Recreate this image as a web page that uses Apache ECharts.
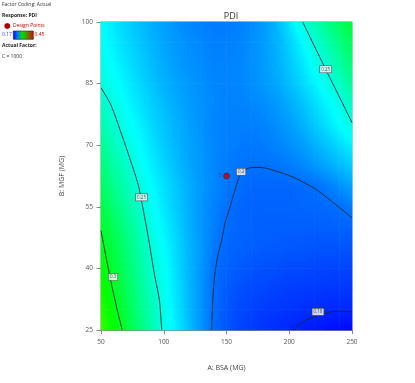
<!DOCTYPE html>
<html><head><meta charset="utf-8">
<script src="https://cdn.jsdelivr.net/npm/echarts@6/dist/echarts.min.js"></script>
<style>html,body{margin:0;padding:0;background:#fff}#c{width:415px;height:383px}</style>
</head><body><div id="c"></div>
<script>
// ---- data ----
const bsaValues = [50,60,70,80,90,100,110,120,130,140,150,160,170,180,190,200,210,220,230,240,250];
const mgfValues = [25,30,35,40,45,50,55,60,65,70,75,80,85,90,95,100];
const pdi25  = [0.325,0.31,0.295,0.279,0.263,0.248,0.236,0.223,0.21,0.199,0.193,0.189,0.186,0.184,0.182,0.18,0.178,0.176,0.174,0.173,0.172];
const pdi30  = [0.32,0.306,0.291,0.275,0.26,0.246,0.233,0.221,0.21,0.2,0.194,0.19,0.188,0.186,0.185,0.184,0.183,0.182,0.181,0.181,0.181];
const pdi35  = [0.315,0.301,0.286,0.271,0.257,0.244,0.232,0.221,0.21,0.2,0.195,0.192,0.19,0.189,0.188,0.187,0.186,0.186,0.185,0.185,0.185];
const pdi40  = [0.31,0.296,0.282,0.268,0.254,0.242,0.231,0.22,0.211,0.201,0.197,0.195,0.193,0.192,0.191,0.19,0.19,0.189,0.189,0.189,0.189];
const pdi45  = [0.304,0.291,0.278,0.265,0.251,0.24,0.23,0.22,0.212,0.203,0.198,0.197,0.196,0.195,0.195,0.194,0.194,0.193,0.193,0.193,0.193];
const pdi50  = [0.299,0.286,0.273,0.26,0.247,0.237,0.228,0.219,0.211,0.205,0.199,0.198,0.197,0.196,0.196,0.196,0.196,0.196,0.196,0.197,0.197];
const pdi55  = [0.291,0.279,0.266,0.255,0.243,0.234,0.226,0.218,0.211,0.206,0.201,0.198,0.197,0.197,0.197,0.197,0.198,0.198,0.199,0.2,0.204];
const pdi60  = [0.284,0.271,0.26,0.25,0.24,0.232,0.225,0.218,0.212,0.207,0.203,0.2,0.198,0.198,0.198,0.198,0.199,0.2,0.204,0.209,0.215];
const pdi65  = [0.277,0.265,0.255,0.245,0.236,0.229,0.222,0.216,0.211,0.207,0.204,0.202,0.201,0.201,0.202,0.204,0.207,0.211,0.216,0.221,0.226];
const pdi70  = [0.27,0.259,0.2495,0.241,0.233,0.226,0.22,0.215,0.211,0.207,0.205,0.204,0.203,0.204,0.206,0.209,0.213,0.218,0.224,0.23,0.237];
const pdi75  = [0.263,0.253,0.244,0.237,0.23,0.224,0.219,0.214,0.21,0.207,0.205,0.205,0.205,0.206,0.209,0.213,0.218,0.225,0.232,0.24,0.248];
const pdi80  = [0.256,0.248,0.24,0.233,0.227,0.222,0.217,0.213,0.21,0.207,0.206,0.206,0.207,0.209,0.212,0.217,0.223,0.23,0.238,0.245,0.257];
const pdi85  = [0.249,0.243,0.236,0.23,0.224,0.219,0.215,0.212,0.209,0.207,0.206,0.207,0.209,0.212,0.216,0.222,0.229,0.237,0.245,0.256,0.268];
const pdi90  = [0.245,0.239,0.233,0.227,0.222,0.217,0.213,0.21,0.208,0.206,0.206,0.207,0.209,0.213,0.218,0.225,0.233,0.243,0.253,0.265,0.277];
const pdi95  = [0.242,0.236,0.23,0.225,0.22,0.215,0.212,0.209,0.207,0.205,0.205,0.206,0.209,0.213,0.219,0.227,0.238,0.25,0.262,0.274,0.286];
const pdi100 = [0.24,0.234,0.228,0.223,0.218,0.214,0.21,0.207,0.205,0.204,0.204,0.205,0.208,0.212,0.22,0.233,0.248,0.261,0.273,0.284,0.295];
const pdiRows = [pdi25,pdi30,pdi35,pdi40,pdi45,pdi50,pdi55,pdi60,pdi65,pdi70,pdi75,pdi80,pdi85,pdi90,pdi95,pdi100];

const contour030 = [[50,49.2],[54,42.8],[58.5,36],[62.8,30],[66.9,25]];
const contour025a = [[50,84],[57.9,79.8],[66,73],[73.5,66.3],[79.7,60.3],[83.7,54.2],[88.3,46.5],[92.3,39],[96.5,32.3],[98.4,25]];
const contour025b = [[210.7,100],[229,88.5],[243.1,79.8],[250,75.5]];
const contour020 = [[138.2,25],[138.7,30],[139.6,35],[141.3,40],[143.8,44],[146.2,46.9],[148.8,51],[152.8,55],[156.8,59.1],[160.2,62.3],[163.4,63.7],[168.7,64.5],[176.7,64.6],[187.3,63.9],[203.2,62.2],[221.9,59.1],[250,52.3]];
const contour018 = [[203.2,25],[208.6,26.5],[214,27.5],[219.2,28.2],[232.5,29.4],[240.4,29.6],[250,29.4]];
const contourLabelText = ['0.3','0.25','0.2','0.18','0.25'];
const contourLabelAt = [[59.6,37.9],[82.3,57.3],[161.6,63.5],[222.9,29.4],[229,88.5]];
const designPoints = [[150,62.5]];
const designCounts = ['5'];
const xTicks = [50,100,150,200,250];
const yTicks = [25,40,55,70,85,100];
const colorRange = [0.17,0.45];

// ---- colour map (blue-cyan-green-yellow-red) ----
const cmap = [[0,0,255],[0,255,255],[0,255,0],[255,255,0],[255,0,0]];
function colorFor(v){
  let t = (v-colorRange[0])/(colorRange[1]-colorRange[0]);
  t = Math.max(0,Math.min(1,t))*(cmap.length-1);
  const k = Math.min(cmap.length-2, Math.floor(t)), f = t-k;
  const a = cmap[k], b = cmap[k+1];
  return 'rgb('+[0,1,2].map(c=>Math.round(a[c]+(b[c]-a[c])*f)).join(',')+')';
}

const cells = [];
for (let j=0;j<mgfValues.length-1;j++) for (let i=0;i<bsaValues.length-1;i++)
  cells.push([bsaValues[i],mgfValues[j],bsaValues[i+1],mgfValues[j+1],
    pdiRows[j][i],pdiRows[j][i+1],pdiRows[j+1][i],pdiRows[j+1][i+1]]);

function renderCell(params, api){
  const p0 = api.coord([api.value(0),api.value(1)]);
  const p1 = api.coord([api.value(2),api.value(3)]);
  const v00=api.value(4), v10=api.value(5), v01=api.value(6), v11=api.value(7);
  const W = p1[0]-p0[0], H = p1[1]-p0[1];
  const dx = ((v10-v00)+(v11-v01))/2, dy = ((v01-v00)+(v11-v10))/2;
  const gx = dx/W, gy = dy/H, g = Math.hypot(gx,gy);
  const vc = (v00+v10+v01+v11)/4;
  const cx = (p0[0]+p1[0])/2, cy = (p0[1]+p1[1])/2;
  let fill;
  if (g < 1e-9) fill = colorFor(vc);
  else {
    const L = Math.hypot(W,H)/2, ux = gx/g, uy = gy/g;
    const stops = [];
    for (let k=0;k<=8;k++){ const t=k/8; stops.push({offset:t,color:colorFor(vc-L*g+2*L*g*t)}); }
    fill = {type:'linear',x:cx-ux*L,y:cy-uy*L,x2:cx+ux*L,y2:cy+uy*L,colorStops:stops,global:true};
  }
  const x = Math.min(p0[0],p1[0]), y = Math.min(p0[1],p1[1]);
  return {type:'rect',shape:{x:x-0.3,y:y-0.3,width:Math.abs(W)+0.6,height:Math.abs(H)+0.6},style:{fill:fill}};
}

const lineStyle = {color:'#16283a',width:0.9};
function contourSeries(d){
  return {type:'line',data:d,smooth:0.25,symbol:'none',lineStyle:lineStyle,z:3,silent:true,animation:false};
}

const chart = echarts.init(document.getElementById('c'),null,{renderer:'canvas'});
const FONT = 'Open Sans';
chart.setOption({
  animation:false,
  textStyle:{fontFamily:FONT},
  title:{text:'PDI',left:226,top:7,textAlign:'center',textStyle:{fontSize:9,fontWeight:'normal',color:'#333',fontFamily:FONT}},
  grid:{left:101,right:63,top:22,bottom:53,show:true,borderColor:'#999',borderWidth:1,backgroundColor:'transparent'},
  xAxis:{type:'value',min:50,max:250,interval:50,
    name:'A: BSA (MG)',nameLocation:'middle',nameGap:34,nameTextStyle:{fontSize:7,color:'#444',fontFamily:FONT},
    axisLine:{show:true,lineStyle:{color:'#888'}},axisTick:{show:true,length:4,lineStyle:{color:'#888'},customValues:xTicks},
    axisLabel:{fontSize:6.5,color:'#555',margin:9,customValues:xTicks,fontFamily:FONT},splitLine:{show:false}},
  yAxis:{type:'value',min:25,max:100,
    name:'B: MGF (MG)',nameLocation:'middle',nameGap:36,nameRotate:90,nameTextStyle:{fontSize:7,color:'#444',fontFamily:FONT},
    axisLine:{show:true,lineStyle:{color:'#888'}},axisTick:{show:true,length:4.5,lineStyle:{color:'#888'},customValues:yTicks},
    axisLabel:{fontSize:6.5,color:'#555',margin:8,customValues:yTicks,fontFamily:FONT},splitLine:{show:false}},
  graphic:[
    {type:'text',left:2,top:2,style:{text:'Factor Coding: Actual',fontSize:5,fill:'#333',fontFamily:FONT}},
    {type:'text',left:2,top:13,style:{text:'Response: PDI',fontSize:5,fontWeight:'bold',fill:'#222',fontFamily:FONT}},
    {type:'circle',shape:{cx:7.3,cy:26,r:2.7},style:{fill:'#b80000',stroke:'#700',lineWidth:0.4}},
    {type:'text',left:13,top:23,style:{text:'Design Points',fontSize:5,fill:'#c00000',fontFamily:FONT}},
    {type:'text',left:2,top:32.5,style:{text:'0.17',fontSize:5,fill:'#4040ff',fontFamily:FONT}},
    {type:'rect',shape:{x:13.3,y:31,width:20,height:8.3},style:{stroke:'#222',lineWidth:0.6,
      fill:{type:'linear',x:0,y:0,x2:1,y2:0,colorStops:[{offset:0,color:'#0000ff'},{offset:0.2,color:'#0070ff'},{offset:0.45,color:'#00e000'},{offset:0.6,color:'#30b000'},{offset:1,color:'#e00000'}]}}},
    {type:'text',left:34.5,top:32.5,style:{text:'0.45',fontSize:5,fill:'#e00000',fontFamily:FONT}},
    {type:'text',left:2,top:43,style:{text:'Actual Factor:',fontSize:5,fontWeight:'bold',fill:'#222',fontFamily:FONT}},
    {type:'text',left:2,top:54,style:{text:'C = 1000',fontSize:5,fill:'#333',fontFamily:FONT}}
  ],
  series:[
    {type:'custom',renderItem:renderCell,data:cells,encode:{x:[0,2],y:[1,3]},z:1,silent:true,animation:false},
    contourSeries(contour030),
    contourSeries(contour025a),
    contourSeries(contour025b),
    contourSeries(contour020),
    contourSeries(contour018),
    {type:'scatter',z:5,silent:true,symbolSize:0,
      data:contourLabelAt.map((p,i)=>({value:p,name:contourLabelText[i]})),
      label:{show:true,position:'inside',formatter:'{b}',fontSize:4.5,color:'#222',fontFamily:FONT,
        backgroundColor:'#fff',borderColor:'#444',borderWidth:0.6,padding:[1,1.2,0.5,1.2]}},
    {type:'scatter',z:6,silent:true,symbol:'circle',symbolSize:6,
      itemStyle:{color:'#c00000',borderColor:'#700000',borderWidth:0.5},
      data:designPoints.map((p,i)=>({value:p,name:designCounts[i]})),
      label:{show:true,position:'left',distance:2,formatter:'{b}',fontSize:4.5,color:'#1a3a8a',fontFamily:FONT}}
  ]
});
</script></body></html>
